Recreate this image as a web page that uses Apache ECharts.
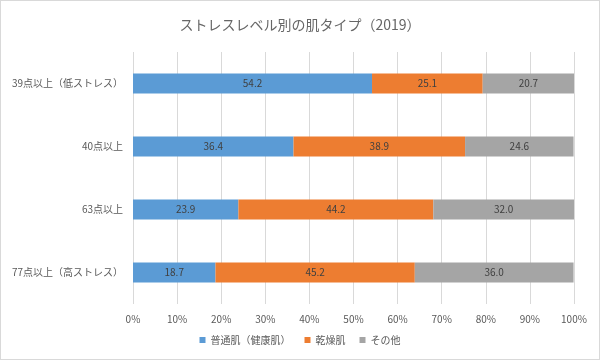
<!DOCTYPE html>
<html><head><meta charset="utf-8">
<script src="https://cdn.jsdelivr.net/npm/echarts@6/dist/echarts.min.js"></script>
<style>html,body{margin:0;padding:0;background:#fff}#c{width:600px;height:360px;box-sizing:border-box;border:1px solid #d9d9d9}</style>
</head><body><div id="c"></div>
<script>
const categories = ['39点以上（低ストレス）','40点以上','63点以上','77点以上（高ストレス）'];
const seriesNames = ['普通肌（健康肌）','乾燥肌','その他'];
const normalSkin = [54.2, 36.4, 23.9, 18.7];
const drySkin = [25.1, 38.9, 44.2, 45.2];
const otherSkin = [20.7, 24.6, 32.0, 36.0];
const colors = ['#5B9BD5','#ED7D31','#A5A5A5'];
const font = '"Noto Sans CJK JP", "Noto Sans", sans-serif';
const chart = echarts.init(document.getElementById('c'));
const mk = (name, data, color) => ({
  name, type:'bar', stack:'total', data, barWidth:20,
  itemStyle:{color},
  label:{show:true, position:'inside', color:'#404040', fontSize:10, fontFamily:font, formatter:p=>p.value.toFixed(1)}
});
chart.setOption({
  animation:false,
  textStyle:{fontFamily:font},
  title:{text:'ストレスレベル別の肌タイプ（2019）', left:'center', top:12,
    textStyle:{color:'#666666', fontSize:14, fontWeight:'normal', fontFamily:font}},
  legend:{bottom:9, left:'center', itemWidth:6, itemHeight:6, icon:'rect', itemGap:14,
    textStyle:{color:'#595959', fontSize:10, fontFamily:font}},
  grid:{left:132, right:25, top:51, bottom:55},
  xAxis:{type:'value', min:0, max:100, interval:10,
    axisLine:{show:false}, axisTick:{show:false},
    splitLine:{lineStyle:{color:'#d9d9d9'}},
    axisLabel:{formatter:'{value}%', color:'#595959', fontSize:10, margin:10, fontFamily:font}},
  yAxis:{type:'category', data:categories, inverse:true,
    axisLine:{show:false}, axisTick:{show:false},
    axisLabel:{color:'#595959', fontSize:10, margin:10, fontFamily:font}},
  series:[mk(seriesNames[0], normalSkin, colors[0]), mk(seriesNames[1], drySkin, colors[1]), mk(seriesNames[2], otherSkin, colors[2])]
});
</script></body></html>
